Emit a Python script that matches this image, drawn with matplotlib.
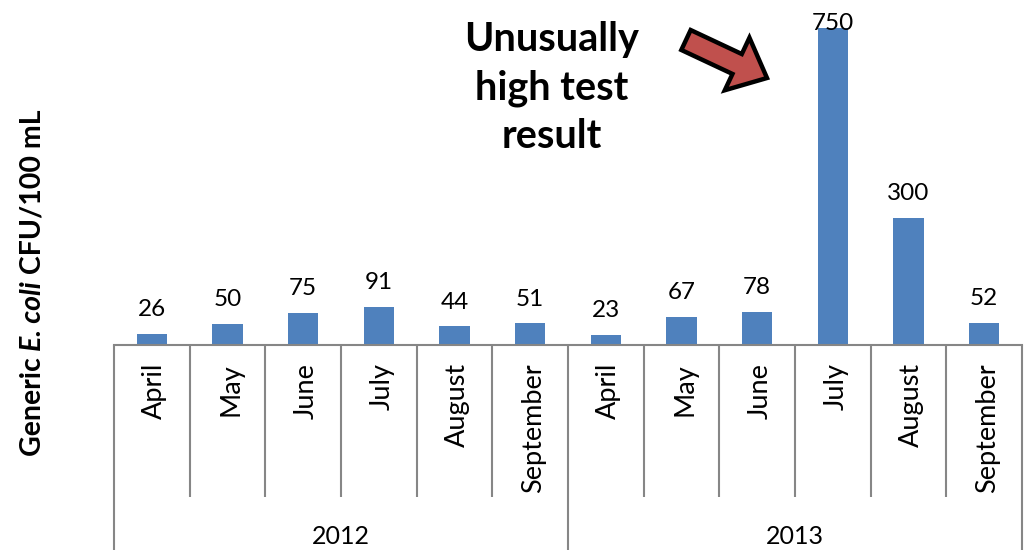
import matplotlib
matplotlib.use("Agg")
import matplotlib.pyplot as plt
from matplotlib.patches import FancyArrow
import numpy as np

months = ["April", "May", "June", "July", "August", "September",
          "April", "May", "June", "July", "August", "September"]
years = ["2012", "2013"]
months_per_year = 6
values = [26, 50, 75, 91, 44, 51, 23, 67, 78, 750, 300, 52]
annotation = "Unusually\nhigh test\nresult"

FONT = ["Lato", "DejaVu Sans"]
plt.rcParams['font.family'] = FONT

W, H = 1028, 550
fig = plt.figure(figsize=(W / 100, H / 100), dpi=100)

ax_left, ax_right = 114 / W, 1022 / W
ax_bottom = 1 - 345 / H
ax_top = 1 - 28 / H
ax = fig.add_axes([ax_left, ax_bottom, ax_right - ax_left, ax_top - ax_bottom])

x = np.arange(len(values))
ax.bar(x, values, width=0.4, color="#4F81BD", zorder=2)
ax.set_xlim(-0.5, len(values) - 0.5)
ax.set_ylim(0, 750)
for s in ["top", "right", "left"]:
    ax.spines[s].set_visible(False)
ax.spines["bottom"].set_color("#868686")
ax.spines["bottom"].set_linewidth(1.5)
ax.set_yticks([])
ax.set_xticks([])

for xi, v in zip(x, values):
    off = 10 if v < 700 else -4
    ax.annotate(str(v), (xi, v), xytext=(0, off), textcoords="offset points",
                ha="center", va="bottom", fontsize=17.5, color="black",
                annotation_clip=False)

axh = (345 - 28)
trans = ax.get_xaxis_transform()
inner_bottom = -(497 - 345) / axh
outer_bottom = -(550 - 345) / axh
label_top = -(363 - 345) / axh
year_y = -(537 - 345) / axh

# category separators
for b in range(len(values) + 1):
    xb = b - 0.5
    yb = outer_bottom if b % months_per_year == 0 else inner_bottom
    ax.plot([xb, xb], [0, yb], transform=trans, color="#868686", lw=1.5,
            clip_on=False, solid_capstyle="butt")

for xi, m in zip(x, months):
    ax.text(xi + 0.04, label_top, m, rotation=90, ha="center", va="top",
            fontsize=19.5, transform=trans)

for i, yr in enumerate(years):
    xc = i * months_per_year + (months_per_year - 1) / 2
    ax.text(xc, year_y, yr, ha="center", va="center", fontsize=18, transform=trans)

# overlay in pixel coordinates for annotation and arrow
ov = fig.add_axes([0, 0, 1, 1], zorder=5)
ov.set_xlim(0, W)
ov.set_ylim(H, 0)
ov.axis("off")
ov.patch.set_alpha(0)

ov.text(552, 88, annotation, ha="center", va="center", fontsize=28.5,
        fontweight="bold", linespacing=1.38)

ov.add_patch(FancyArrow(686, 40, 81, 38, width=22, head_width=58, head_length=33,
                        length_includes_head=True, fc="#C0504D", ec="black",
                        lw=3.2, joinstyle="miter"))

# y label with italic part
fig.canvas.draw()
r = fig.canvas.get_renderer()
parts = [("Generic ", "normal"), ("E. coli", "italic"), (" CFU/100 mL", "normal")]
texts = []
for t, st in parts:
    tt = fig.text(0, 0, t, rotation=90, fontsize=20.5, fontweight="bold",
                  fontstyle=st, ha="center", va="bottom")
    texts.append(tt)
fig.canvas.draw()
lens = [tt.get_window_extent(r).height for tt in texts]
total = sum(lens)
cy = H - 283
start = cy - total / 2
xc = 33
pos = start
for tt, L in zip(texts, lens):
    tt.set_position((xc / W, pos / H))
    pos += L

fig.savefig("out.png", dpi=100)
